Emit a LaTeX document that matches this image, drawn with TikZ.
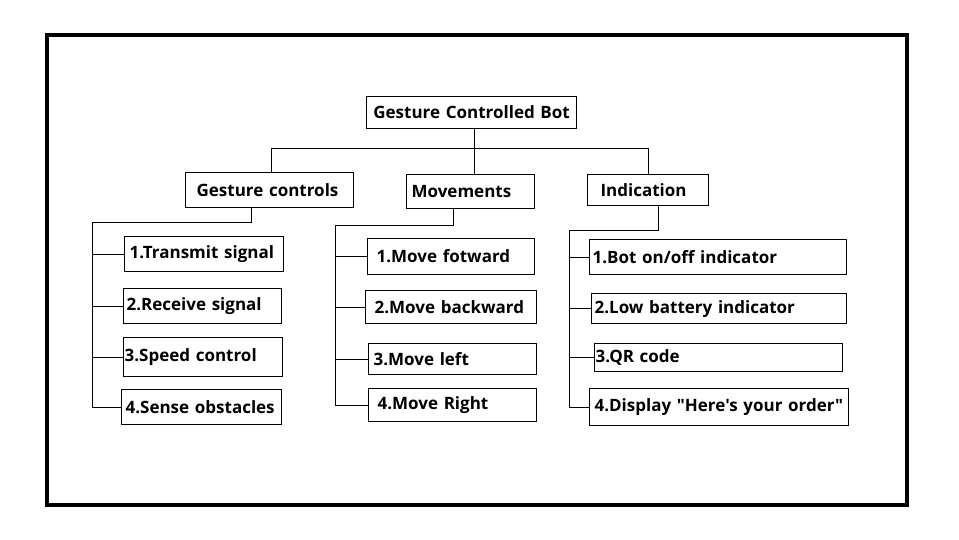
\documentclass[tikz,border=0pt]{standalone}
\usepackage{fontspec}
\setmainfont{Open Sans}[Ligatures=TeXOff]
\usetikzlibrary{positioning}

\begin{document}
\begin{tikzpicture}[x=1pt,y=1pt]
    \tikzset{every node/.append style={font=\bfseries\fontsize{17}{20}\selectfont}}
    \tikzset{box/.style={draw, line width=1.2pt, anchor=north west, align=left, inner ysep=0pt}}
    \useasboundingbox (0,0) rectangle (959,-539);
    \draw [line width=4.5pt] (47,-35) rectangle (907,-505);
    % top level
    \node [box, align=center, inner xsep=2pt, text width=206, minimum height=32] (bot) at (366,-96) {Gesture Controlled Bot};
    \node [box, inner xsep=11pt, text width=146, minimum height=35] (gc) at (185,-172) {Gesture controls};
    \node [box, inner xsep=5pt, text width=118, minimum height=34] (mv) at (406,-174) {Movements};
    \node [box, inner xsep=13pt, text width=95, minimum height=31] (ind) at (587,-174) {Indication};
    % gesture controls
    \node [box, inner xsep=5pt, text width=149, minimum height=35] (g1) at (124,-236) {1.Transmit signal};
    \node [box, inner xsep=3pt, text width=152, minimum height=35] (g2) at (123,-288) {2.Receive signal};
    \node [box, inner xsep=1pt, text width=157, minimum height=39] (g3) at (123,-337) {3.Speed control};
    \node [box, inner xsep=4pt, text width=152, minimum height=35] (g4) at (121,-389) {4.Sense obstacles};
    % movements
    \node [box, inner xsep=9pt, text width=149, minimum height=36] (m1) at (367,-238) {1.Move fotward};
    \node [box, inner xsep=9pt, text width=153, minimum height=33] (m2) at (365,-290) {2.Move backward};
    \node [box, inner xsep=5pt, text width=158, minimum height=31] (m3) at (368,-343) {3.Move left};
    \node [box, inner xsep=9pt, text width=150, minimum height=33] (m4) at (368,-388) {4.Move Right};
    % indication
    \node [box, inner xsep=3pt, text width=251, minimum height=35] (i1) at (589,-239) {1.Bot on/off indicator};
    \node [box, inner xsep=3pt, text width=249, minimum height=30] (i2) at (591,-293) {2.Low battery indicator};
    \node [box, inner xsep=1pt, text width=246, minimum height=28] (i3) at (594,-343) {3.QR code};
    \node [box, inner xsep=5pt, text width=249, minimum height=37] (i4) at (589,-388) {\mbox{4.Display "Here's your order"}};
    % connectors
    \coordinate (tl) at (271,-148);
    \coordinate (tm) at (474,-148);
    \coordinate (tr) at (648,-148);
    \draw [line width=1pt] (tm |- bot.south) -- (tm |- mv.north);
    \draw [line width=1pt] (tl |- gc.north) -- (tl) -- (tr) -- (tr |- ind.north);
    \coordinate (gcj) at (251,-222);
    \coordinate (gcs) at (92,-222);
    \draw [line width=1pt] (gcj |- gc.south) -- (gcj) -- (gcs) -- (gcs |- g4.west);
    \coordinate (mvj) at (453,-225);
    \coordinate (mvs) at (335,-225);
    \draw [line width=1pt] (mvj |- mv.south) -- (mvj) -- (mvs) -- (mvs |- m4.west);
    \coordinate (indj) at (658,-230);
    \coordinate (inds) at (569,-230);
    \draw [line width=1pt] (indj |- ind.south) -- (indj) -- (inds) -- (inds |- i4.west);
    \foreach \n in {g1,g2,g3,g4} \draw [line width=1pt] (gcs |- \n.west) -- (\n.west);
    \foreach \n in {m1,m2,m3,m4} \draw [line width=1pt] (mvs |- \n.west) -- (\n.west);
    \foreach \n in {i1,i2,i3,i4} \draw [line width=1pt] (inds |- \n.west) -- (\n.west);
\end{tikzpicture}
\end{document}
